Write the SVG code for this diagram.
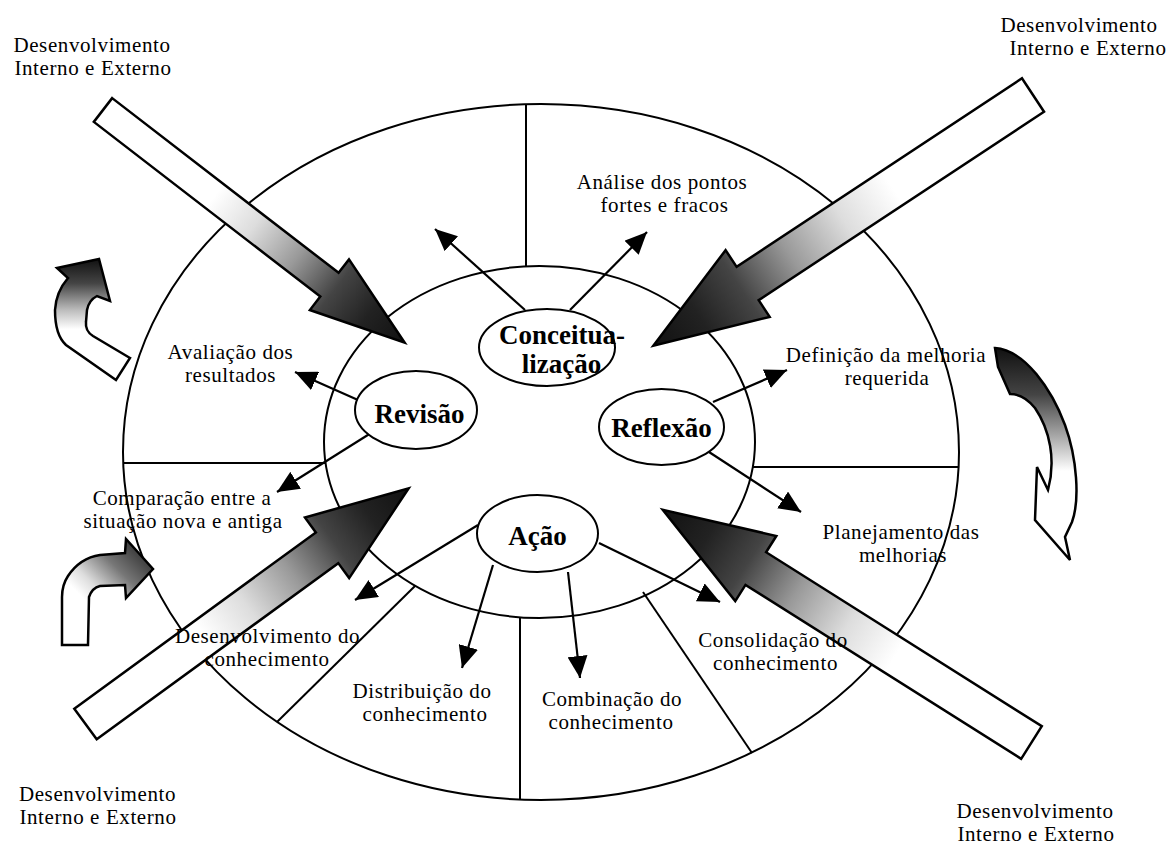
<svg xmlns="http://www.w3.org/2000/svg" width="1173" height="845" viewBox="0 0 1173 845">
<style>
.ring{fill:#fff;stroke:#000;stroke-width:2}
.div{stroke:#000;stroke-width:2;fill:none}
.con{stroke:#000;stroke-width:2.2;fill:none;marker-end:url(#ah)}
.node{fill:#fff;stroke:#000;stroke-width:2}
.nt{font-family:"Liberation Serif","Times New Roman",serif;font-weight:bold;font-size:27px;text-anchor:middle;fill:#000}
.lb{font-family:"Liberation Serif","Times New Roman",serif;font-size:21px;letter-spacing:0.6px;text-anchor:middle;fill:#000}
.big{stroke:#000;stroke-width:2.5;stroke-linejoin:miter}
.curv{stroke:#000;stroke-width:2.5;stroke-linejoin:miter}
</style>
<defs>
<marker id="ah" markerUnits="userSpaceOnUse" markerWidth="22" markerHeight="20" refX="22" refY="10" orient="auto" viewBox="0 0 22 20">
<path d="M0,0 L22,10 L0,20 Z" fill="#000"/>
</marker>
<linearGradient id="gBig" x1="0" y1="0" x2="1" y2="0">
<stop offset="0" stop-color="#fff"/>
<stop offset="0.37" stop-color="#fff"/>
<stop offset="0.5" stop-color="#ddd"/>
<stop offset="0.64" stop-color="#999"/>
<stop offset="0.77" stop-color="#444"/>
<stop offset="0.88" stop-color="#222"/>
<stop offset="1" stop-color="#111"/>
</linearGradient>
<linearGradient id="gTL" gradientUnits="userSpaceOnUse" x1="0" y1="259" x2="0" y2="380">
<stop offset="0" stop-color="#111"/>
<stop offset="0.2" stop-color="#444"/>
<stop offset="0.42" stop-color="#bbb"/>
<stop offset="0.58" stop-color="#fff"/>
<stop offset="1" stop-color="#fff"/>
</linearGradient>
<linearGradient id="gBL" gradientUnits="userSpaceOnUse" x1="150" y1="545" x2="70" y2="625">
<stop offset="0" stop-color="#222"/>
<stop offset="0.35" stop-color="#777"/>
<stop offset="0.6" stop-color="#ddd"/>
<stop offset="0.75" stop-color="#fff"/>
<stop offset="1" stop-color="#fff"/>
</linearGradient>
<linearGradient id="gR" gradientUnits="userSpaceOnUse" x1="0" y1="348" x2="0" y2="560">
<stop offset="0" stop-color="#111"/>
<stop offset="0.22" stop-color="#444"/>
<stop offset="0.42" stop-color="#aaa"/>
<stop offset="0.58" stop-color="#fff"/>
<stop offset="1" stop-color="#fff"/>
</linearGradient>
</defs>

<g id="rings">
<ellipse class="ring" cx="541" cy="452" rx="418" ry="348"/>
<line class="div" x1="526" y1="104" x2="526" y2="267"/>
<line class="div" x1="123" y1="463" x2="325" y2="463"/>
<line class="div" x1="753" y1="467" x2="959" y2="467"/>
<line class="div" x1="520" y1="617" x2="520" y2="800"/>
<line class="div" x1="415" y1="586" x2="277" y2="722"/>
<line class="div" x1="643" y1="592" x2="752" y2="753"/>
<ellipse cx="539.5" cy="442" rx="215.5" ry="176" fill="none" stroke="#000" stroke-width="2"/>
</g>

<g id="connectors">
<line class="con" x1="525" y1="310" x2="435" y2="229"/>
<line class="con" x1="570" y1="310" x2="647" y2="232"/>
<line class="con" x1="358" y1="400" x2="295" y2="372"/>
<line class="con" x1="371" y1="433" x2="277" y2="492"/>
<line class="con" x1="713" y1="402" x2="787" y2="370"/>
<line class="con" x1="709" y1="452" x2="801" y2="512"/>
<line class="con" x1="478" y1="525" x2="355" y2="600"/>
<line class="con" x1="493" y1="565" x2="462" y2="668"/>
<line class="con" x1="568" y1="572" x2="580" y2="678"/>
<line class="con" x1="599" y1="543" x2="720" y2="602"/>
</g>

<g id="node-conceituacao">
<ellipse class="node" cx="547" cy="347.5" rx="68" ry="38.5"/>
<text class="nt" x="562" y="344">Conceitua-</text>
<text class="nt" x="561.5" y="373">lização</text>
</g>
<g id="node-revisao">
<ellipse class="node" cx="416" cy="410" rx="61" ry="39"/>
<text class="nt" x="419.5" y="423">Revisão</text>
</g>
<g id="node-reflexao">
<ellipse class="node" cx="661.5" cy="427" rx="62.5" ry="38"/>
<text class="nt" x="661.5" y="437">Reflexão</text>
</g>
<g id="node-acao">
<ellipse class="node" cx="537.5" cy="533.5" rx="60.5" ry="38.5"/>
<text class="nt" x="537.5" y="545">Ação</text>
</g>

<g id="arrow-top-left">
<polygon class="big" fill="url(#gBig)" transform="translate(103,110) rotate(37.65)" points="0,-15 286,-15 286,-32 381,0 286,32 286,15 0,15"/>
</g>
<g id="arrow-top-right">
<polygon class="big" fill="url(#gBig)" transform="translate(1033,95) rotate(146.55)" points="0,-20 342,-20 342,-40 455,0 342,40 342,20 0,20"/>
</g>
<g id="arrow-bottom-left">
<polygon class="big" fill="url(#gBig)" transform="translate(85.5,724) rotate(-36.11)" points="0,-19 299,-19 299,-37.5 400,0 299,37.5 299,19 0,19"/>
</g>
<g id="arrow-bottom-right">
<polygon class="big" fill="url(#gBig)" transform="translate(1031.5,742.5) rotate(-147.75)" points="0,-19.3 326,-19.3 326,-38.5 436,0 326,38.5 326,19.3 0,19.3"/>
</g>

<g id="curved-top-left">
<path class="curv" fill="url(#gTL)" d="M130,358 L93,336 Q85,331 86,322 L87,310 Q89,300 97,296 L110,301 L99,259 L57,268 L68,278 Q56,292 55,310 Q55,335 66,345 L116,380 Z"/>
</g>
<g id="curved-bottom-left">
<path class="curv" fill="url(#gBL)" d="M62,645 L62,597 Q62,585 68,576 Q80,558 100,555 L125,553 L126,539 L153,569 L126,598 L125,585 L100,586 Q92,588 89,597 L88,645 Z"/>
</g>
<g id="curved-right">
<path class="curv" fill="url(#gR)" d="M995,348 C1025,350 1052,390 1065,425 C1077,458 1080,500 1072,522 L1065,537 L1070,560 L1035,520 L1037,467 L1048,490 C1056,460 1050,430 1035,408 C1027,398 1018,394 1010,394 L998,367 Z"/>
</g>

<g id="labels">
<text class="lb" x="92" y="52">Desenvolvimento</text>
<text class="lb" x="93" y="75">Interno e Externo</text>
<text class="lb" x="1079" y="32">Desenvolvimento</text>
<text class="lb" x="1088" y="55">Interno e Externo</text>
<text class="lb" x="97.5" y="801">Desenvolvimento</text>
<text class="lb" x="98" y="824">Interno e Externo</text>
<text class="lb" x="1035" y="818">Desenvolvimento</text>
<text class="lb" x="1036" y="841">Interno e Externo</text>
<text class="lb" x="662" y="189">Análise dos pontos</text>
<text class="lb" x="664.5" y="212">fortes e fracos</text>
<text class="lb" x="230.5" y="359">Avaliação dos</text>
<text class="lb" x="230.5" y="382">resultados</text>
<text class="lb" x="886" y="362">Definição da melhoria</text>
<text class="lb" x="887" y="385">requerida</text>
<text class="lb" x="182" y="505">Comparação entre a</text>
<text class="lb" x="183" y="528">situação nova e antiga</text>
<text class="lb" x="901" y="539">Planejamento das</text>
<text class="lb" x="903" y="562">melhorias</text>
<text class="lb" x="267.5" y="643">Desenvolvimento do</text>
<text class="lb" x="267" y="666">conhecimento</text>
<text class="lb" x="422" y="698">Distribuição do</text>
<text class="lb" x="425" y="721">conhecimento</text>
<text class="lb" x="612" y="706">Combinação do</text>
<text class="lb" x="611" y="729">conhecimento</text>
<text class="lb" x="773" y="647">Consolidação do</text>
<text class="lb" x="775.5" y="670">conhecimento</text>
</g>
</svg>
